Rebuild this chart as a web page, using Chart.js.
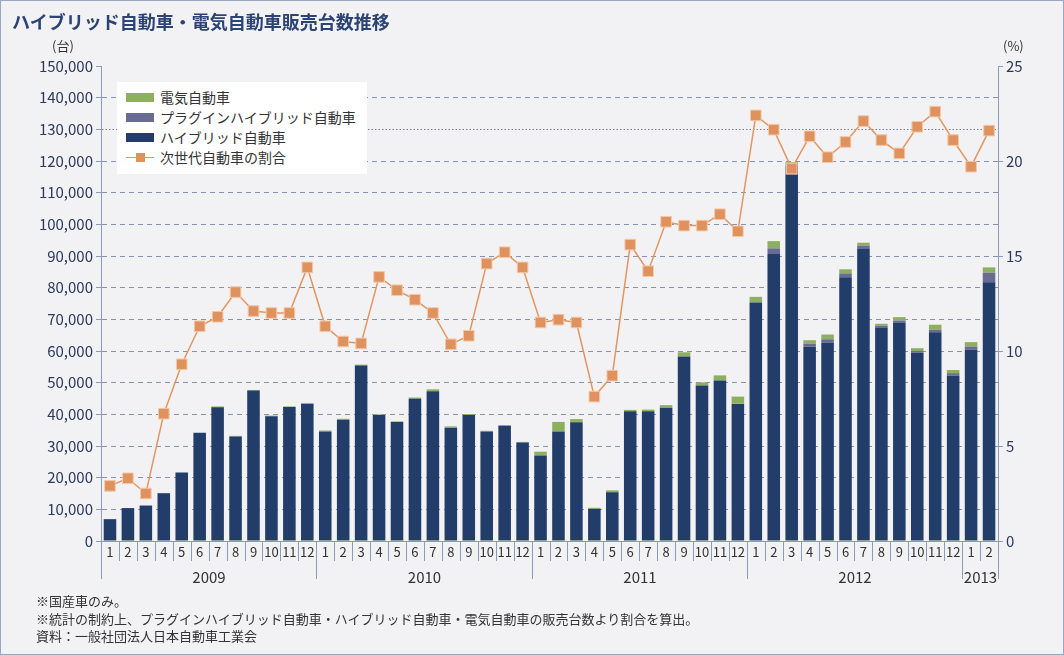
<!DOCTYPE html>
<html lang="ja">
<head>
<meta charset="utf-8">
<title>ハイブリッド自動車・電気自動車販売台数推移</title>
<script src="https://cdn.jsdelivr.net/npm/chart.js@4.4.0/dist/chart.umd.min.js"></script>
<style>
  html, body { margin: 0; padding: 0; background: #f2f2f4; }
  body { font-family: "Noto Sans CJK JP", "Noto Sans", sans-serif; }
  #wrap { position: relative; width: 1064px; height: 655px; overflow: hidden; background: #f2f2f4; }
  #frame { position: absolute; left: 0; top: 0; width: 1064px; height: 655px; box-sizing: border-box; border: 1px solid #9aa6c0; pointer-events: none; }
  #chart { position: absolute; left: 0; top: 0; }
  .title { position: absolute; left: 12px; top: 8px; font-size: 18px; font-weight: 700; color: #2c4373; letter-spacing: 0; }
  .unit { position: absolute; top: 36px; font-size: 13px; color: #333; }
  .legend { position: absolute; left: 117px; top: 82px; width: 250px; height: 92px; background: #fff; }
  .legend .item { position: absolute; left: 9px; height: 20px; display: flex; align-items: center; font-size: 14px; color: #333; }
  .legend .sw { width: 28px; height: 9px; margin-right: 6px; }
  .legend .ln { position: relative; width: 28px; height: 9px; margin-right: 6px; }
  .legend .ln::before { content: ""; position: absolute; left: 0; right: 0; top: 4px; height: 1.5px; background: #e3955f; }
  .legend .ln::after { content: ""; position: absolute; left: 10px; top: 0; width: 9px; height: 9px; background: #e0925e; }
  .notes { position: absolute; left: 36px; top: 592px; font-size: 13px; line-height: 17.5px; color: #333; }
</style>
</head>
<body>
<div id="wrap">
  <canvas id="chart" width="1064" height="655"></canvas>
  <div class="title">ハイブリッド自動車・電気自動車販売台数推移</div>
  <div class="unit" style="left:52px;">(台)</div>
  <div class="unit" style="left:1003px;">(%)</div>
  <div class="legend" id="legend"></div>
  <div class="notes">
    <div>※国産車のみ。</div>
    <div>※統計の制約上、プラグインハイブリッド自動車・ハイブリッド自動車・電気自動車の販売台数より割合を算出。</div>
    <div>資料：一般社団法人日本自動車工業会</div>
  </div>
  <div id="frame"></div>
</div>
<script>
// 月ラベル（2009年1月〜2013年2月）
const meses = [
  "1","2","3","4","5","6","7","8","9","10","11","12",
  "1","2","3","4","5","6","7","8","9","10","11","12",
  "1","2","3","4","5","6","7","8","9","10","11","12",
  "1","2","3","4","5","6","7","8","9","10","11","12",
  "1","2"
];
const anos = ["2009", "2010", "2011", "2012", "2013"];

// 台数
const hibridos = [
  6900, 10400, 11200, 15100, 21600, 34200, 42200, 33000, 47500, 39400, 42300, 43300,
  34600, 38300, 55400, 39800, 37600, 44900, 47300, 35800, 39800, 34600, 36400, 31100,
  27000, 34600, 37500, 10100, 15400, 41000, 41000, 42100, 58300, 49100, 50700, 43300,
  75200, 90600, 115600, 61300, 62600, 83300, 92200, 67400, 68900, 59400, 65900, 52200,
  60400, 81700
];
const plugin = [
  0, 0, 0, 0, 0, 0, 0, 0, 0, 0, 0, 0,
  0, 0, 0, 0, 0, 0, 0, 0, 0, 0, 0, 0,
  0, 0, 0, 0, 0, 0, 0, 0, 0, 0, 0, 0,
  200, 1800, 2900, 1000, 1100, 1200, 1100, 600, 700, 600, 800, 800,
  1000, 3000
];
const eletricos = [
  0, 0, 0, 0, 0, 0, 300, 200, 200, 200, 200, 300,
  300, 300, 300, 200, 200, 400, 600, 400, 300, 200, 200, 200,
  1200, 3000, 1000, 400, 600, 400, 500, 800, 1300, 1000, 1600, 2300,
  1700, 2300, 1100, 1100, 1500, 1300, 900, 600, 1100, 900, 1600, 1000,
  1400, 1700
];
// 次世代自動車の割合（%）
const percentagem = [
  2.9, 3.3, 2.5, 6.7, 9.3, 11.3, 11.8, 13.1, 12.1, 12.0, 12.0, 14.4,
  11.3, 10.5, 10.4, 13.9, 13.2, 12.7, 12.0, 10.35, 10.8, 14.6, 15.2, 14.4,
  11.5, 11.65, 11.5, 7.6, 8.7, 15.6, 14.2, 16.8, 16.6, 16.6, 17.2, 16.3,
  22.4, 21.65, 19.6, 21.3, 20.2, 21.0, 22.1, 21.1, 20.4, 21.8, 22.6, 21.1,
  19.7, 21.6
];

const cores = { hev: "#233d6b", phev: "#696b93", ev: "#8db060", linha: "#e3955f", ponto: "#e0925e" };
const fonte = "'Noto Sans CJK JP', 'Noto Sans', sans-serif";

// 凡例
function montarLegenda() {
  const itens = [
    { txt: "電気自動車", cor: cores.ev },
    { txt: "プラグインハイブリッド自動車", cor: cores.phev },
    { txt: "ハイブリッド自動車", cor: cores.hev },
    { txt: "次世代自動車の割合", linha: true }
  ];
  document.getElementById("legend").innerHTML = itens.map((it, i) => `
    <div class="item" style="top:${5 + i * 20}px">
      ${it.linha ? '<span class="ln"></span>' : `<span class="sw" style="background:${it.cor}"></span>`}
      <span>${it.txt}</span>
    </div>`).join("");
}

// 年の区切りと年ラベル
const separadorAnos = {
  id: "separadorAnos",
  afterDraw(chart) {
    const { ctx, chartArea } = chart;
    const x = chart.scales.x;
    ctx.save();
    ctx.strokeStyle = "#8c9bb8";
    ctx.lineWidth = 1;
    const inicios = [];
    for (let i = 0; i <= meses.length; i++) {
      const px = Math.round(x.getPixelForValue(i - 0.5)) + 0.5;
      const ehAno = i === 0 || i === meses.length || meses[i] === "1";
      if (ehAno) inicios.push(px);
      ctx.beginPath();
      ctx.moveTo(px, chartArea.bottom);
      ctx.lineTo(px, chartArea.bottom + (ehAno ? 38 : 20));
      ctx.stroke();
    }
    ctx.fillStyle = "#333";
    ctx.font = "15px " + fonte;
    ctx.textAlign = "center";
    ctx.textBaseline = "middle";
    for (let k = 0; k < anos.length; k++) {
      ctx.fillText(anos[k], (inicios[k] + inicios[k + 1]) / 2, chartArea.bottom + 36);
    }
    ctx.restore();
  }
};

function graficoVendas() {
  new Chart(document.getElementById("chart"), {
    data: {
      labels: meses,
      datasets: [
        {
          type: "line",
          label: "次世代自動車の割合",
          data: percentagem,
          yAxisID: "y2",
          order: 0,
          borderColor: cores.linha,
          borderWidth: 1.5,
          pointStyle: "rect",
          pointRadius: 7.5,
          pointBackgroundColor: cores.ponto,
          pointBorderColor: "#f2c8a8",
          pointBorderWidth: 1,
          tension: 0
        },
        { type: "bar", label: "ハイブリッド自動車", data: hibridos, backgroundColor: cores.hev, yAxisID: "y", stack: "v", order: 1, barPercentage: 0.7, categoryPercentage: 1 },
        { type: "bar", label: "プラグインハイブリッド自動車", data: plugin, backgroundColor: cores.phev, yAxisID: "y", stack: "v", order: 1, barPercentage: 0.7, categoryPercentage: 1 },
        { type: "bar", label: "電気自動車", data: eletricos, backgroundColor: cores.ev, yAxisID: "y", stack: "v", order: 1, barPercentage: 0.7, categoryPercentage: 1 }
      ]
    },
    options: {
      responsive: false,
      animation: false,
      layout: { padding: { top: 66, left: 0, right: 0, bottom: 0 } },
      plugins: {
        legend: { display: false },
        tooltip: { enabled: false }
      },
      scales: {
        x: {
          stacked: true,
          afterFit: s => { s.height = 114; },
          grid: { drawOnChartArea: false, drawTicks: false },
          border: { display: true, color: "#8c9bb8", width: 1 },
          ticks: { color: "#333", font: { size: 13, family: fonte }, padding: 3, maxRotation: 0, autoSkip: false }
        },
        y: {
          stacked: true,
          position: "left",
          min: 0,
          max: 150000,
          afterFit: s => { s.width = 101; },
          grid: {
            color: c => {
              const v = c.tick ? c.tick.value : null;
              if (v === 0 || v === 150000) return "rgba(0,0,0,0)";
              if (v === 130000) return "#7d7d85";
              return "#8592b2";
            },
            tickColor: "#8c9bb8",
            tickLength: 5,
            lineWidth: 1
          },
          border: {
            display: true,
            color: "#8c9bb8",
            dash: c => (c.tick && c.tick.value === 130000) ? [1.5, 2] : [5, 4]
          },
          ticks: {
            stepSize: 10000,
            color: "#2b3a5e",
            padding: 3,
            font: { size: 15, family: fonte },
            callback: v => v.toLocaleString("en-US")
          }
        },
        y2: {
          position: "right",
          min: 0,
          max: 25,
          afterFit: s => { s.width = 66; },
          grid: { drawOnChartArea: false, tickColor: "#8c9bb8", tickLength: 5 },
          border: { display: true, color: "#8c9bb8" },
          ticks: { stepSize: 5, color: "#2b3a5e", padding: 3, font: { size: 15, family: fonte } }
        }
      }
    },
    plugins: [separadorAnos]
  });
}

montarLegenda();
graficoVendas();
</script>
</body>
</html>
